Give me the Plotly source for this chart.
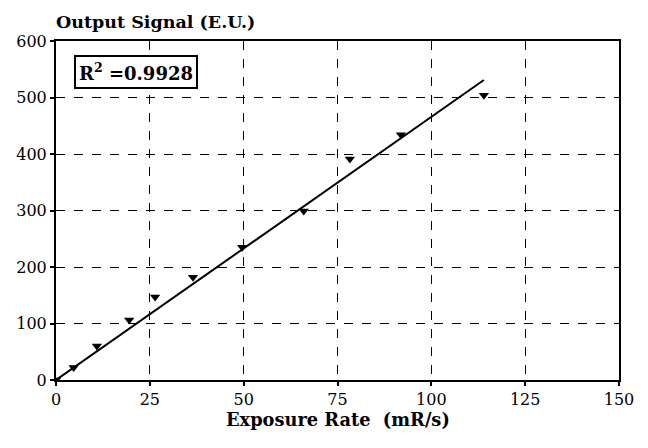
import plotly.graph_objects as go

exposure_rate = [0, 4.7, 10.9, 19.5, 26.4, 36.5, 49.6, 66.0, 78.3, 91.9, 114.0]
output_signal = [0, 22, 60, 106, 147, 182, 235, 299, 391, 434, 504]
fit_x = [0, 114]
fit_y = [0, 531]
x_ticks = [0, 25, 50, 75, 100, 125, 150]
y_ticks = [0, 100, 200, 300, 400, 500, 600]
r2_text = "R<sup>2</sup> =0.9928"

FONT = "DejaVu Serif"

fig = go.Figure()
fig.add_trace(go.Scatter(x=fit_x, y=fit_y, mode="lines",
                         line=dict(color="black", width=2), showlegend=False))
fig.add_trace(go.Scatter(x=exposure_rate, y=output_signal, mode="markers",
                         marker=dict(symbol="triangle-down", size=9, color="black"),
                         showlegend=False))

axis_common = dict(
    showline=True, linecolor="black", linewidth=2, mirror=True,
    showgrid=True, gridcolor="black", griddash="dash", gridwidth=1.2,
    zeroline=False, ticks="outside", ticklen=4, tickcolor="black", tickwidth=2,
    tickfont=dict(family=FONT, size=16, color="black"), automargin=False,
)

fig.update_xaxes(range=[0, 150], tickvals=x_ticks, **axis_common)
fig.update_yaxes(range=[0, 600], tickvals=y_ticks, **axis_common)

fig.add_annotation(xref="paper", yref="paper", x=0.5, y=-0.08,
                   xanchor="center", yanchor="top", showarrow=False,
                   text="<b>Exposure Rate  (mR/s)</b>",
                   font=dict(family=FONT, size=17.8, color="black"))
fig.add_annotation(xref="paper", yref="paper", x=-0.003, y=1.022,
                   xanchor="left", yanchor="bottom", showarrow=False,
                   text="<b>Output Signal (E.U.)</b>",
                   font=dict(family=FONT, size=17.5, color="black"))
fig.add_annotation(xref="paper", yref="paper", x=0.032, y=0.96,
                   xanchor="left", yanchor="top", showarrow=False,
                   text="<b>" + r2_text + "</b>",
                   font=dict(family=FONT, size=18, color="black"),
                   bordercolor="black", borderwidth=2, borderpad=3,
                   bgcolor="white")

fig.update_layout(width=648, height=448,
                  margin=dict(l=48, r=37, t=33, b=76),
                  plot_bgcolor="white", paper_bgcolor="white",
                  font=dict(family=FONT, color="black"))

fig.write_html("out.html")
